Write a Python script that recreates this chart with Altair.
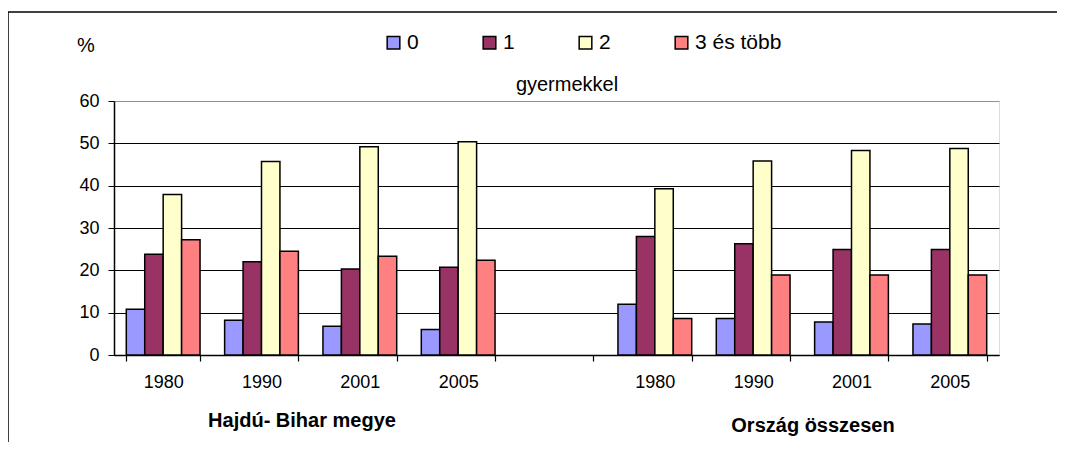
import altair as alt
import pandas as pd

years = ["1980", "1990", "2001", "2005"]
groups = ["Hajdú- Bihar megye", "Ország összesen"]
series = ["0", "1", "2", "3 és több"]
colors = ["#9999FF", "#993366", "#FFFFCC", "#FF8080"]

hb_0 = [10.8, 8.2, 6.8, 6.0]
hb_1 = [23.8, 22.0, 20.3, 20.7]
hb_2 = [37.9, 45.7, 49.2, 50.4]
hb_3 = [27.2, 24.5, 23.3, 22.4]

o_0 = [12.0, 8.6, 7.8, 7.3]
o_1 = [28.0, 26.3, 24.9, 24.9]
o_2 = [39.3, 45.8, 48.3, 48.8]
o_3 = [8.6, 18.9, 18.9, 18.9]

y_ticks = [0, 10, 20, 30, 40, 50, 60]

# category keys: first char marks the group, rest is the year label; "C" is the empty gap slot
hb_keys = ["A" + y for y in years]
o_keys = ["B" + y for y in years]
domain = hb_keys + ["C"] + o_keys

rows = []
for keys, vals in ((hb_keys, [hb_0, hb_1, hb_2, hb_3]), (o_keys, [o_0, o_1, o_2, o_3])):
    for s, v in zip(series, vals):
        for k, val in zip(keys, v):
            rows.append({"cat": k, "series": s, "value": val})
df = pd.DataFrame(rows)

FONT = "Liberation Sans"

bars = alt.Chart(df).mark_bar(stroke="black", strokeWidth=1.5).encode(
    x=alt.X(
        "cat:N",
        scale=alt.Scale(domain=domain, paddingInner=0.25, paddingOuter=0.125),
        axis=alt.Axis(
            title=None,
            labelExpr="isString(datum.value) && length(datum.value) > 1 ? substring(datum.value, 1) : ''",
            labelAngle=0,
            labelFont=FONT,
            labelFontSize=18,
            labelColor="black",
            labelPadding=12,
            tickBand="extent",
            tickColor="black",
            tickSize=6,
            tickWidth=1.2,
            domainColor="black",
            domainWidth=1.5,
            grid=False,
        ),
    ),
    xOffset=alt.XOffset("series:N", sort=series,
                        scale=alt.Scale(paddingInner=0, paddingOuter=0)),
    y=alt.Y(
        "value:Q",
        scale=alt.Scale(domain=[0, 60], nice=False),
        axis=alt.Axis(
            title=None,
            values=y_ticks,
            labelFont=FONT,
            labelFontSize=18,
            labelColor="black",
            labelPadding=9,
            tickColor="black",
            tickSize=6,
            tickWidth=1,
            domainColor="black",
            domainWidth=1.5,
            grid=True,
            gridColor={"condition": {"test": "datum.value === 60", "value": "#909090"}, "value": "black"},
            gridWidth=1,
        ),
    ),
    color=alt.Color(
        "series:N",
        sort=series,
        scale=alt.Scale(domain=series, range=colors),
        legend=alt.Legend(
            title=None,
            orient="none",
            legendX=269,
            legendY=-69,
            direction="horizontal",
            columns=4,
            symbolType="square",
            symbolSize=160,
            symbolStrokeColor="black",
            symbolStrokeWidth=1.5,
            symbolOpacity=1,
            labelFont=FONT,
            labelFontSize=21,
            labelColor="black",
            labelOffset=3,
            columnPadding=60,
            padding=0,
        ),
    ),
)

pct = alt.Chart(pd.DataFrame({"t": ["%"]})).mark_text(
    font=FONT, fontSize=20, color="black", align="center", baseline="middle"
).encode(x=alt.value(-28), y=alt.value(-55), text="t:N")

sub = alt.Chart(pd.DataFrame({"t": ["gyermekkel"]})).mark_text(
    font=FONT, fontSize=20, color="black", align="center", baseline="alphabetic"
).encode(x=alt.value(453), y=alt.value(-10), text="t:N")

lab1 = alt.Chart(pd.DataFrame({"t": [groups[0]]})).mark_text(
    font=FONT, fontSize=20, fontWeight="bold", color="black", align="center", baseline="middle"
).encode(x=alt.value(188), y=alt.value(320), text="t:N")

lab2 = alt.Chart(pd.DataFrame({"t": [groups[1]]})).mark_text(
    font=FONT, fontSize=20, fontWeight="bold", color="black", align="center", baseline="middle"
).encode(x=alt.value(699), y=alt.value(325), text="t:N")

frame_top = alt.Chart(pd.DataFrame({"a": [0]})).mark_rule(color="black", strokeWidth=1.5).encode(
    x=alt.value(-106), x2=alt.value(943), y=alt.value(-89)
)
frame_left = alt.Chart(pd.DataFrame({"a": [0]})).mark_rule(color="black", strokeWidth=1.5).encode(
    x=alt.value(-106), y=alt.value(-89), y2=alt.value(341)
)

chart = alt.layer(bars, pct, sub, lab1, lab2, frame_top, frame_left).properties(
    width=885,
    height=254,
    autosize="none",
    padding={"left": 106, "top": 93, "right": 58, "bottom": 87},
).configure_view(stroke="#909090", strokeWidth=1.5).configure(background="white")

chart.save("out.html", embed_options={"renderer": "svg", "actions": False})
